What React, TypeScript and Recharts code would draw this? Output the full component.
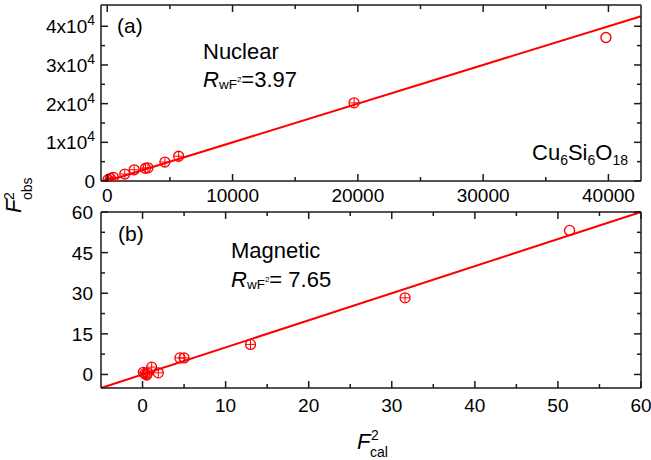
import React from 'react';
import { ScatterChart, Scatter, XAxis, YAxis, ReferenceLine } from 'recharts';

const RED = '#ff0000';
const AXIS = '#1a1a1a';
const FONT = '"Liberation Sans", Arial, Helvetica, sans-serif';

// ---- Panel (a): Nuclear ----
const nuclearCalc = [60, 250, 480, 1400, 2150, 3050, 3250, 4600, 5700, 19700];
const nuclearObs = [350, 650, 950, 1800, 2900, 3300, 3400, 4900, 6400, 20200];
const nuclearOpenCalc = [39800];
const nuclearOpenObs = [37100];

// ---- Panel (b): Magnetic ----
const magCalc = [0.1, 0.3, 0.5, 0.6, 1.1, 1.9, 4.5, 5.0, 13.0, 31.6];
const magObs = [0.8, 0.3, -0.2, 0.5, 2.7, 0.6, 6.1, 6.1, 11.1, 28.3];
const magOpenCalc = [51.4];
const magOpenObs = [53.2];

// ---- Axes ----
const topXDomain = [-500, 42600];
const topYDomain = [0, 45500];
const topXMajor = [0, 10000, 20000, 30000, 40000];
const topXMinor = [5000, 15000, 25000, 35000];
const topYMajor = [0, 10000, 20000, 30000, 40000];
const topYMinor = [5000, 15000, 25000, 35000];
const topYMantissa = ['0', '1x10', '2x10', '3x10', '4x10'];
const topYExponent = ['', '4', '4', '4', '4'];
const topFitEnds = [0, 42600];

const botXDomain = [-5, 60];
const botYDomain = [-5, 60];
const botXMajor = [0, 10, 20, 30, 40, 50, 60];
const botXMinor = [5, 15, 25, 35, 45, 55];
const botYMajor = [0, 15, 30, 45, 60];
const botYMinor = [7.5, 22.5, 37.5, 52.5];
const botFitEnds = [-5, 60];

const toPoints = (xs: number[], ys: number[]) => xs.map((x, i) => ({ x, y: ys[i] }));
const nuclearPoints = toPoints(nuclearCalc, nuclearObs);
const nuclearOpen = toPoints(nuclearOpenCalc, nuclearOpenObs);
const magPoints = toPoints(magCalc, magObs);
const magOpen = toPoints(magOpenCalc, magOpenObs);

const sortTicks = (a: number[], b: number[]) => [...a, ...b].sort((p, q) => p - q);

const MAJOR_LEN = 7;
const MINOR_LEN = 4;
const TICK_FS = 19;

type Side = 'bottom' | 'top' | 'left' | 'right';

const makeTick = (
  side: Side,
  majors: number[],
  label?: (v: number, x: number, y: number) => React.ReactNode
) => (props: any) => {
  const { x, y, payload } = props;
  const v = payload.value;
  const major = majors.some((m) => Math.abs(m - v) < 1e-9);
  const len = major ? MAJOR_LEN : MINOR_LEN;
  let x2 = x;
  let y2 = y;
  if (side === 'bottom') y2 = y - len;
  if (side === 'top') y2 = y + len;
  if (side === 'left') x2 = x + len;
  if (side === 'right') x2 = x - len;
  return (
    <g>
      <line x1={x} y1={y} x2={x2} y2={y2} stroke={AXIS} strokeWidth={1.5} />
      {major && label ? label(v, x, y) : null}
    </g>
  );
};

const xLabel = (offset: number) => (v: number, x: number, y: number) => (
  <text x={x} y={y + offset} textAnchor="middle" fontSize={TICK_FS} fill="#000" fontFamily={FONT}>
    {String(v)}
  </text>
);

const topYLabel = (v: number, x: number, y: number) => {
  const i = topYMajor.indexOf(v);
  return (
    <text x={x - 6} y={y + 7} textAnchor="end" fontSize={TICK_FS} fill="#000" fontFamily={FONT}>
      {topYMantissa[i]}
      {topYExponent[i] ? (
        <tspan fontSize={14} dy={-8}>
          {topYExponent[i]}
        </tspan>
      ) : null}
    </text>
  );
};

const botYLabel = (v: number, x: number, y: number) => (
  <text x={x - 8} y={y + 7} textAnchor="end" fontSize={TICK_FS} fill="#000" fontFamily={FONT}>
    {String(v)}
  </text>
);

const CrossCircle = (props: any) => {
  const { cx, cy } = props;
  if (cx == null || cy == null) return null;
  const r = 5;
  return (
    <g>
      <circle cx={cx} cy={cy} r={r} fill="none" stroke={RED} strokeWidth={1.3} />
      <line x1={cx - r} y1={cy} x2={cx + r} y2={cy} stroke={RED} strokeWidth={1} />
      <line x1={cx} y1={cy - r} x2={cx} y2={cy + r} stroke={RED} strokeWidth={1} />
    </g>
  );
};

const OpenCircle = (props: any) => {
  const { cx, cy } = props;
  if (cx == null || cy == null) return null;
  return <circle cx={cx} cy={cy} r={5} fill="none" stroke={RED} strokeWidth={1.4} />;
};

const axisLine = { stroke: AXIS, strokeWidth: 1.5 };

export default function App() {
  const topXTicks = sortTicks(topXMajor, topXMinor);
  const topYTicks = sortTicks(topYMajor, topYMinor);
  const botXTicks = sortTicks(botXMajor, botXMinor);
  const botYTicks = sortTicks(botYMajor, botYMinor);
  return (
    <div
      style={{
        position: 'fixed',
        left: 0,
        top: 0,
        width: 651,
        height: 460,
        background: '#fff',
        fontFamily: FONT,
      }}
    >
      <div style={{ position: 'absolute', left: 0, top: 0 }}>
        <ScatterChart width={651} height={460} margin={{ top: 4, right: 9, bottom: 249, left: 0 }}>
          <XAxis
            xAxisId="b"
            type="number"
            dataKey="x"
            domain={topXDomain}
            allowDataOverflow
            ticks={topXTicks}
            interval={0}
            tickSize={0}
            tickMargin={0}
            tickLine={false}
            axisLine={axisLine}
            height={30}
            tick={makeTick('bottom', topXMajor, xLabel(21))}
          />
          <XAxis
            xAxisId="t"
            orientation="top"
            type="number"
            dataKey="x"
            domain={topXDomain}
            allowDataOverflow
            ticks={topXTicks}
            interval={0}
            tickSize={0}
            tickMargin={0}
            tickLine={false}
            axisLine={axisLine}
            height={1}
            tick={makeTick('top', topXMajor)}
          />
          <YAxis
            yAxisId="l"
            type="number"
            dataKey="y"
            domain={topYDomain}
            allowDataOverflow
            ticks={topYTicks}
            interval={0}
            tickSize={0}
            tickMargin={0}
            tickLine={false}
            axisLine={axisLine}
            width={101}
            tick={makeTick('left', topYMajor, topYLabel)}
          />
          <YAxis
            yAxisId="r"
            orientation="right"
            type="number"
            dataKey="y"
            domain={topYDomain}
            allowDataOverflow
            ticks={topYTicks}
            interval={0}
            tickSize={0}
            tickMargin={0}
            tickLine={false}
            axisLine={axisLine}
            width={1}
            tick={makeTick('right', topYMajor)}
          />
          <ReferenceLine
            xAxisId="b"
            yAxisId="l"
            segment={[
              { x: topFitEnds[0], y: topFitEnds[0] },
              { x: topFitEnds[1], y: topFitEnds[1] },
            ]}
            stroke={RED}
            strokeWidth={2}
            ifOverflow="visible"
          />
          <Scatter xAxisId="b" yAxisId="l" data={nuclearPoints} shape={CrossCircle} isAnimationActive={false} />
          <Scatter xAxisId="b" yAxisId="l" data={nuclearOpen} shape={OpenCircle} isAnimationActive={false} />
        </ScatterChart>
      </div>

      <div style={{ position: 'absolute', left: 0, top: 0 }}>
        <ScatterChart width={651} height={460} margin={{ top: 211, right: 9, bottom: 42, left: 0 }}>
          <XAxis
            xAxisId="b"
            type="number"
            dataKey="x"
            domain={botXDomain}
            allowDataOverflow
            ticks={botXTicks}
            interval={0}
            tickSize={0}
            tickMargin={0}
            tickLine={false}
            axisLine={axisLine}
            height={30}
            tick={makeTick('bottom', botXMajor, xLabel(24))}
          />
          <XAxis
            xAxisId="t"
            orientation="top"
            type="number"
            dataKey="x"
            domain={botXDomain}
            allowDataOverflow
            ticks={botXTicks}
            interval={0}
            tickSize={0}
            tickMargin={0}
            tickLine={false}
            axisLine={axisLine}
            height={1}
            tick={makeTick('top', botXMajor)}
          />
          <YAxis
            yAxisId="l"
            type="number"
            dataKey="y"
            domain={botYDomain}
            allowDataOverflow
            ticks={botYTicks}
            interval={0}
            tickSize={0}
            tickMargin={0}
            tickLine={false}
            axisLine={axisLine}
            width={101}
            tick={makeTick('left', botYMajor, botYLabel)}
          />
          <YAxis
            yAxisId="r"
            orientation="right"
            type="number"
            dataKey="y"
            domain={botYDomain}
            allowDataOverflow
            ticks={botYTicks}
            interval={0}
            tickSize={0}
            tickMargin={0}
            tickLine={false}
            axisLine={axisLine}
            width={1}
            tick={makeTick('right', botYMajor)}
          />
          <ReferenceLine
            xAxisId="b"
            yAxisId="l"
            segment={[
              { x: botFitEnds[0], y: botFitEnds[0] },
              { x: botFitEnds[1], y: botFitEnds[1] },
            ]}
            stroke={RED}
            strokeWidth={2}
            ifOverflow="visible"
          />
          <Scatter xAxisId="b" yAxisId="l" data={magPoints} shape={CrossCircle} isAnimationActive={false} />
          <Scatter xAxisId="b" yAxisId="l" data={magOpen} shape={OpenCircle} isAnimationActive={false} />
        </ScatterChart>
      </div>

      <svg
        width={651}
        height={460}
        style={{ position: 'absolute', left: 0, top: 0, pointerEvents: 'none' }}
        fontFamily={FONT}
        fill="#000"
      >
        {/* panel (a) annotations */}
        <text x={117} y={33} fontSize={21}>(a)</text>
        <text x={203} y={59} fontSize={22}>Nuclear</text>
        <text x={203} y={87} fontSize={22}>
          <tspan fontStyle="italic">R</tspan>
          <tspan fontSize={13.5} dy={2}>wF</tspan>
          <tspan fontSize={8} dy={-7}>2</tspan>
          <tspan fontSize={22} dy={5}>=3.97</tspan>
        </text>
        <text x={532} y={160} fontSize={22}>
          Cu<tspan fontSize={14} dy={5}>6</tspan>
          <tspan dy={-5}>Si</tspan>
          <tspan fontSize={14} dy={5}>6</tspan>
          <tspan dy={-5}>O</tspan>
          <tspan fontSize={14} dy={5}>18</tspan>
        </text>

        {/* panel (b) annotations */}
        <text x={118} y={241} fontSize={21}>(b)</text>
        <text x={231} y={258} fontSize={22}>Magnetic</text>
        <text x={231} y={287} fontSize={22}>
          <tspan fontStyle="italic">R</tspan>
          <tspan fontSize={13.5} dy={2}>wF</tspan>
          <tspan fontSize={8} dy={-7}>2</tspan>
          <tspan fontSize={22} dy={5}>= 7.65</tspan>
        </text>

        {/* x axis title */}
        <text x={357} y={449} fontSize={22} fontStyle="italic">F</text>
        <text x={371} y={440} fontSize={14}>2</text>
        <text x={370} y={457} fontSize={14}>cal</text>

        {/* y axis title */}
        <g transform="rotate(-90)">
          <text x={-213} y={21} fontSize={22} fontStyle="italic">F</text>
          <text x={-200} y={14} fontSize={14}>2</text>
          <text x={-200} y={32} fontSize={14}>obs</text>
        </g>
      </svg>
    </div>
  );
}
